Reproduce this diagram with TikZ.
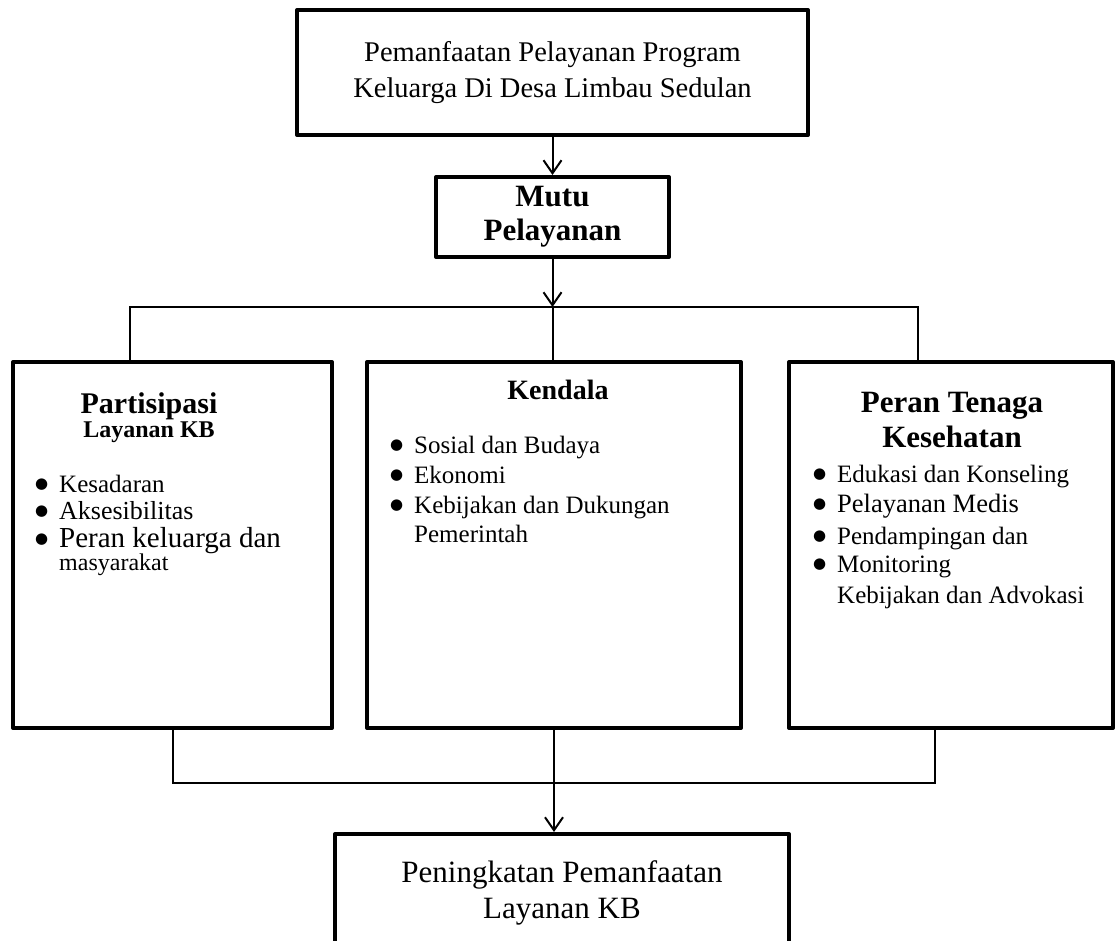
\documentclass[tikz,border=0pt]{standalone}
\usepackage{fontspec}
\setmainfont{Liberation Serif}
\newfontfamily\simbol{DejaVu Sans}
\usetikzlibrary{arrows.meta}
\newcommand{\ukuran}[2]{\fontsize{#1}{#2}\selectfont}
\newcommand{\bul}{\llap{\raisebox{4pt}{\simbol\ukuran{15}{15}●}\hspace{11pt}}}

\begin{document}
\begin{tikzpicture}[x=1pt,y=-1pt,
  kotak/.style={draw, line width=4pt, line join=round},
  garis/.style={line width=2pt},
  panah/.style={garis, -{Straight Barb[length=13pt,width=18pt,line width=2pt]}},
  butir/.style={anchor=base west, inner sep=0pt},
  judul/.style={anchor=base, inner sep=0pt}]
\clip (0,0) rectangle (1115,941);

% kotak utama
\node[kotak, minimum width=511pt, minimum height=125pt, align=center, font=\ukuran{28.5}{36}] (program) at (552.5,72.5) {Pemanfaatan Pelayanan Program\\Keluarga Di Desa Limbau Sedulan};
\node[kotak, minimum width=233pt, minimum height=80pt, align=center, font=\bfseries\ukuran{31}{34}] (mutu) at (552.5,217) {Mutu\\Pelayanan};
\node[kotak, minimum width=319pt, minimum height=366pt] (partisipasi) at (172.5,545) {};
\node[kotak, minimum width=374pt, minimum height=366pt] (kendala) at (554,545) {};
\node[kotak, minimum width=324pt, minimum height=366pt] (peran) at (951,545) {};
\node[kotak, anchor=north, minimum width=454pt, inner ysep=27pt, align=center, font=\ukuran{31}{36}] (peningkatan) at (562,832) {Peningkatan Pemanfaatan\\Layanan KB};

% judul
\node[judul, font=\bfseries\ukuran{30}{30}] (judul-p1) at (149,413) {Partisipasi};
\node[judul, font=\bfseries\ukuran{24}{24}] (judul-p2) at (149,437) {Layanan KB};
\node[judul, font=\bfseries\ukuran{28}{28}] (judul-k) at (558,399) {Kendala};
\node[judul, font=\bfseries\ukuran{31}{31}] (judul-r1) at (952,412) {Peran Tenaga};
\node[judul, font=\bfseries\ukuran{31}{31}] (judul-r2) at (952,447) {Kesehatan};

% isi kiri
\node[butir, font=\ukuran{25}{25}] (p1) at (59,492) {\bul Kesadaran};
\node[butir, font=\ukuran{26}{26}] (p2) at (59,519) {\bul Aksesibilitas};
\node[butir, font=\ukuran{29}{29}] (p3) at (59,547) {\bul Peran keluarga dan};
\node[butir, font=\ukuran{24}{24}] (p4) at (59,570) {masyarakat};

% isi tengah
\foreach \teks [count=\i] in {Sosial dan Budaya, Ekonomi, Kebijakan dan Dukungan}
  \node[butir, font=\ukuran{25}{25}] (k\i) at (414,{423+30*\i}) {\bul \teks};
\node[butir, font=\ukuran{25}{25}] (k4) at (414,542) {Pemerintah};

% isi kanan
\node[butir, font=\ukuran{25}{25}] (r1) at (837,482) {\bul Edukasi dan Konseling};
\node[butir, font=\ukuran{26.5}{26}] (r2) at (837,512) {\bul Pelayanan Medis};
\node[butir, font=\ukuran{25}{25}] (r3) at (837,544) {\bul Pendampingan dan};
\node[butir, font=\ukuran{25}{25}] (r4) at (837,572) {\bul Monitoring};
\node[butir, font=\ukuran{25}{25}] (r5) at (837,603) {Kebijakan dan Advokasi};

% garis penghubung
\coordinate (cabang) at (mutu.south |- 0,307);
\coordinate (kiri-atas) at (130,307);
\coordinate (kanan-atas) at (918,307);
\coordinate (kanan-bawah) at (935,783);
\draw[panah] (program) -- (mutu);
\draw[panah] (mutu) -- (cabang);
\draw[garis] (kiri-atas |- partisipasi.north) -- (kiri-atas) -- (kanan-atas) -- (kanan-atas |- peran.north);
\draw[garis] (cabang) -- (cabang |- kendala.north);
\draw[garis] (partisipasi.south) |- (kanan-bawah) -- (kanan-bawah |- peran.south);
\draw[panah] (kendala.south) -- (kendala.south |- peningkatan.north);
\end{tikzpicture}
\end{document}
